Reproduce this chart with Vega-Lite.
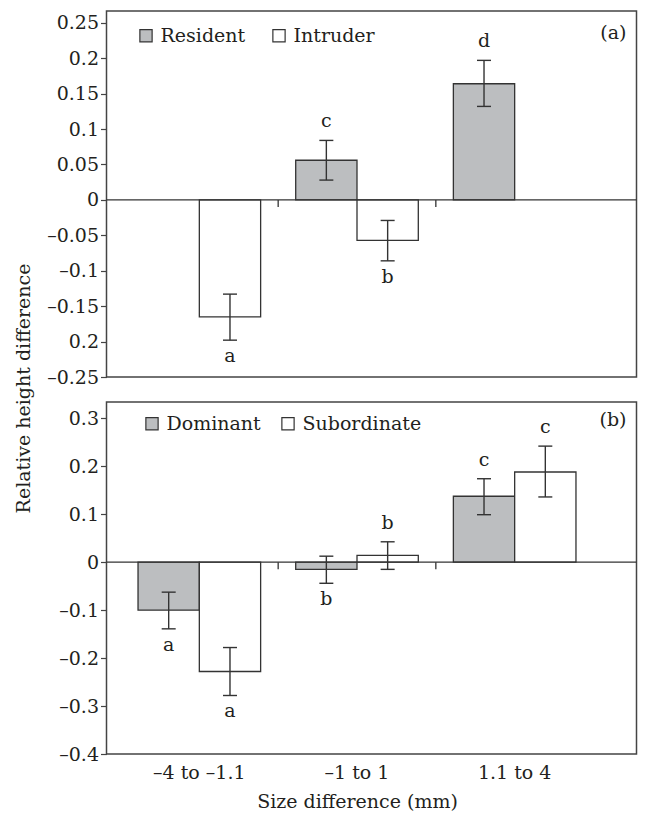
{
  "$schema": "https://vega.github.io/schema/vega-lite/v6.json",
  "padding": {"left": 13.5, "top": 10, "right": 5, "bottom": 5},
  "bounds": "flush",
  "spacing": 25,
  "datasets": {
    "a": [
      {"size": "–4 to –1.1", "group": "Intruder", "value": -0.165, "lo": -0.198, "hi": -0.133, "letter": "a"},
      {"size": "–1 to 1", "group": "Resident", "value": 0.056, "lo": 0.028, "hi": 0.084, "letter": "c"},
      {"size": "–1 to 1", "group": "Intruder", "value": -0.057, "lo": -0.086, "hi": -0.029, "letter": "b"},
      {"size": "1.1 to 4", "group": "Resident", "value": 0.164, "lo": 0.132, "hi": 0.197, "letter": "d"}
    ],
    "b": [
      {"size": "–4 to –1.1", "group": "Dominant", "value": -0.1, "lo": -0.139, "hi": -0.0625, "letter": "a"},
      {"size": "–4 to –1.1", "group": "Subordinate", "value": -0.228, "lo": -0.278, "hi": -0.178, "letter": "a"},
      {"size": "–1 to 1", "group": "Dominant", "value": -0.015, "lo": -0.044, "hi": 0.0125, "letter": "b"},
      {"size": "–1 to 1", "group": "Subordinate", "value": 0.014, "lo": -0.015, "hi": 0.0425, "letter": "b"},
      {"size": "1.1 to 4", "group": "Dominant", "value": 0.1375, "lo": 0.099, "hi": 0.174, "letter": "c"},
      {"size": "1.1 to 4", "group": "Subordinate", "value": 0.188, "lo": 0.136, "hi": 0.242, "letter": "c"}
    ],
    "boundaries": [
      {"size": "–1 to 1"},
      {"size": "1.1 to 4"}
    ]
  },
  "resolve": {
    "scale": {"x": "independent", "y": "independent", "xOffset": "independent", "fill": "independent"},
    "legend": {"fill": "independent"}
  },
  "vconcat": [
    {
      "width": 530,
      "height": 366,
      "data": {"name": "a"},
      "title": {"text": "(a)", "anchor": "end", "frame": "group", "orient": "top", "offset": 0, "baseline": "middle", "dy": 40.5, "dx": -10, "fontSize": 19, "font": "DejaVu Serif", "fontWeight": "normal", "color": "#231f20"},
      "resolve": {"axis": {"x": "independent", "y": "independent"}},
      "layer": [
        {
          "mark": {"type": "bar", "stroke": "#333333", "strokeWidth": 1.3},
          "encoding": {
            "x": {"field": "size", "type": "nominal", "sort": ["–4 to –1.1", "–1 to 1", "1.1 to 4"],
              "scale": {"domain": ["–4 to –1.1", "–1 to 1", "1.1 to 4"], "range": [14, 487], "paddingInner": 0, "paddingOuter": 0},
              "axis": null},
            "xOffset": {"field": "group", "type": "nominal", "scale": {"domain": ["Resident", "Intruder"], "paddingInner": 0, "paddingOuter": 0.286}},
            "y": {"field": "value", "type": "quantitative",
              "scale": {"domain": [-0.25, 0.2667], "nice": false, "zero": false},
              "axis": {"title": "Relative height difference", "orient": "left", "values": [-0.25, -0.2, -0.15, -0.1, -0.05, 0, 0.05, 0.1, 0.15, 0.2, 0.25],
                "labelExpr": "abs(datum.value + 0.2) < 1e-9 ? '0.2' : (datum.value < 0 ? '–' + format(-datum.value, '~g') : format(datum.value, '~g'))",
                "labelOverlap": false,
                "tickSize": 6, "tickWidth": 1.2, "labelPadding": 2, "domain": false,
                "titleX": -83, "titleY": 377, "titleBaseline": "middle", "titleAngle": -90}},
            "fill": {"field": "group", "type": "nominal",
              "scale": {"domain": ["Resident", "Intruder"], "range": ["#bcbec0", "#ffffff"]},
              "legend": {"orient": "none", "legendX": 30, "legendY": 15, "direction": "horizontal", "title": null, "columnPadding": 24}}
          }
        },
        {
          "data": {"values": [{}]},
          "mark": {"type": "rule", "stroke": "#333333", "strokeWidth": 1.4},
          "encoding": {"y": {"datum": 0, "type": "quantitative", "axis": null}}
        },
        {
          "data": {"name": "boundaries"},
          "mark": {"type": "rule", "stroke": "#333333", "strokeWidth": 1.3, "xOffset": -78.83, "x2Offset": -78.83},
          "encoding": {
            "x": {"field": "size", "type": "nominal", "axis": null},
            "y": {"datum": 0, "type": "quantitative", "axis": null},
            "y2": {"datum": -0.0099}
          }
        },
        {
          "mark": {"type": "rule", "stroke": "#333333", "strokeWidth": 1.4},
          "encoding": {
            "x": {"field": "size", "type": "nominal", "axis": null},
            "xOffset": {"field": "group", "type": "nominal"},
            "y": {"field": "lo", "type": "quantitative", "axis": null},
            "y2": {"field": "hi"}
          }
        },
        {
          "mark": {"type": "tick", "color": "#333333", "size": 14, "thickness": 1.4, "opacity": 1},
          "encoding": {
            "x": {"field": "size", "type": "nominal", "axis": null},
            "xOffset": {"field": "group", "type": "nominal"},
            "y": {"field": "lo", "type": "quantitative", "axis": null}
          }
        },
        {
          "mark": {"type": "tick", "color": "#333333", "size": 14, "thickness": 1.4, "opacity": 1},
          "encoding": {
            "x": {"field": "size", "type": "nominal", "axis": null},
            "xOffset": {"field": "group", "type": "nominal"},
            "y": {"field": "hi", "type": "quantitative", "axis": null}
          }
        },
        {
          "transform": [{"filter": "datum.value > 0"}],
          "mark": {"type": "text", "baseline": "alphabetic", "dy": -13, "fontSize": 19, "font": "DejaVu Serif", "color": "#231f20"},
          "encoding": {
            "x": {"field": "size", "type": "nominal", "axis": null},
            "xOffset": {"field": "group", "type": "nominal"},
            "y": {"field": "hi", "type": "quantitative", "axis": null},
            "text": {"field": "letter"}
          }
        },
        {
          "transform": [{"filter": "datum.value < 0"}],
          "mark": {"type": "text", "baseline": "top", "dy": 7, "fontSize": 19, "font": "DejaVu Serif", "color": "#231f20"},
          "encoding": {
            "x": {"field": "size", "type": "nominal", "axis": null},
            "xOffset": {"field": "group", "type": "nominal"},
            "y": {"field": "lo", "type": "quantitative", "axis": null},
            "text": {"field": "letter"}
          }
        }
      ]
    },
    {
      "width": 530,
      "height": 352,
      "data": {"name": "b"},
      "title": {"text": "(b)", "anchor": "end", "frame": "group", "orient": "top", "offset": 0, "baseline": "middle", "dy": 36.5, "dx": -10, "fontSize": 19, "font": "DejaVu Serif", "fontWeight": "normal", "color": "#231f20"},
      "resolve": {"axis": {"x": "independent", "y": "independent"}},
      "layer": [
        {
          "mark": {"type": "bar", "stroke": "#333333", "strokeWidth": 1.3},
          "encoding": {
            "x": {"field": "size", "type": "nominal", "sort": ["–4 to –1.1", "–1 to 1", "1.1 to 4"],
              "scale": {"domain": ["–4 to –1.1", "–1 to 1", "1.1 to 4"], "range": [14, 487], "paddingInner": 0, "paddingOuter": 0},
              "axis": {"title": "Size difference (mm)", "orient": "bottom", "ticks": false, "domain": false, "labelPadding": 9, "titlePadding": 10, "labelAngle": 0}},
            "xOffset": {"field": "group", "type": "nominal", "scale": {"domain": ["Dominant", "Subordinate"], "paddingInner": 0, "paddingOuter": 0.286}},
            "y": {"field": "value", "type": "quantitative",
              "scale": {"domain": [-0.4, 0.334], "nice": false, "zero": false},
              "axis": {"title": null, "orient": "left", "values": [-0.4, -0.3, -0.2, -0.1, 0, 0.1, 0.2, 0.3],
                "labelExpr": "datum.value < 0 ? '–' + format(-datum.value, '~g') : format(datum.value, '~g')",
                "labelOverlap": false,
                "tickSize": 6, "tickWidth": 1.2, "labelPadding": 2, "domain": false}},
            "fill": {"field": "group", "type": "nominal",
              "scale": {"domain": ["Dominant", "Subordinate"], "range": ["#bcbec0", "#ffffff"]},
              "legend": {"orient": "none", "legendX": 36, "legendY": 12, "direction": "horizontal", "title": null, "columnPadding": 17}}
          }
        },
        {
          "data": {"values": [{}]},
          "mark": {"type": "rule", "stroke": "#333333", "strokeWidth": 1.4},
          "encoding": {"y": {"datum": 0, "type": "quantitative", "axis": null}}
        },
        {
          "data": {"name": "boundaries"},
          "mark": {"type": "rule", "stroke": "#333333", "strokeWidth": 1.3, "xOffset": -78.83, "x2Offset": -78.83},
          "encoding": {
            "x": {"field": "size", "type": "nominal", "axis": null},
            "y": {"datum": 0, "type": "quantitative", "axis": null},
            "y2": {"datum": -0.0146}
          }
        },
        {
          "mark": {"type": "rule", "stroke": "#333333", "strokeWidth": 1.4},
          "encoding": {
            "x": {"field": "size", "type": "nominal", "axis": null},
            "xOffset": {"field": "group", "type": "nominal"},
            "y": {"field": "lo", "type": "quantitative", "axis": null},
            "y2": {"field": "hi"}
          }
        },
        {
          "mark": {"type": "tick", "color": "#333333", "size": 14, "thickness": 1.4, "opacity": 1},
          "encoding": {
            "x": {"field": "size", "type": "nominal", "axis": null},
            "xOffset": {"field": "group", "type": "nominal"},
            "y": {"field": "lo", "type": "quantitative", "axis": null}
          }
        },
        {
          "mark": {"type": "tick", "color": "#333333", "size": 14, "thickness": 1.4, "opacity": 1},
          "encoding": {
            "x": {"field": "size", "type": "nominal", "axis": null},
            "xOffset": {"field": "group", "type": "nominal"},
            "y": {"field": "hi", "type": "quantitative", "axis": null}
          }
        },
        {
          "transform": [{"filter": "datum.value > 0"}],
          "mark": {"type": "text", "baseline": "alphabetic", "dy": -13, "fontSize": 19, "font": "DejaVu Serif", "color": "#231f20"},
          "encoding": {
            "x": {"field": "size", "type": "nominal", "axis": null},
            "xOffset": {"field": "group", "type": "nominal"},
            "y": {"field": "hi", "type": "quantitative", "axis": null},
            "text": {"field": "letter"}
          }
        },
        {
          "transform": [{"filter": "datum.value < 0"}],
          "mark": {"type": "text", "baseline": "top", "dy": 7, "fontSize": 19, "font": "DejaVu Serif", "color": "#231f20"},
          "encoding": {
            "x": {"field": "size", "type": "nominal", "axis": null},
            "xOffset": {"field": "group", "type": "nominal"},
            "y": {"field": "lo", "type": "quantitative", "axis": null},
            "text": {"field": "letter"}
          }
        }
      ]
    }
  ],
  "config": {
    "font": "DejaVu Serif",
    "view": {"stroke": "#444444", "strokeWidth": 1.5},
    "axis": {"labelFont": "DejaVu Serif", "labelFontSize": 19, "labelColor": "#231f20", "titleFont": "DejaVu Serif", "titleFontSize": 19, "titleFontWeight": "normal", "titleColor": "#231f20", "grid": false, "tickColor": "#444444"},
    "legend": {"symbolType": "square", "symbolSize": 150, "symbolStrokeColor": "#333333", "symbolStrokeWidth": 1.2, "labelFont": "DejaVu Serif", "labelFontSize": 19, "labelColor": "#231f20", "labelOffset": 5, "padding": 0}
  }
}
